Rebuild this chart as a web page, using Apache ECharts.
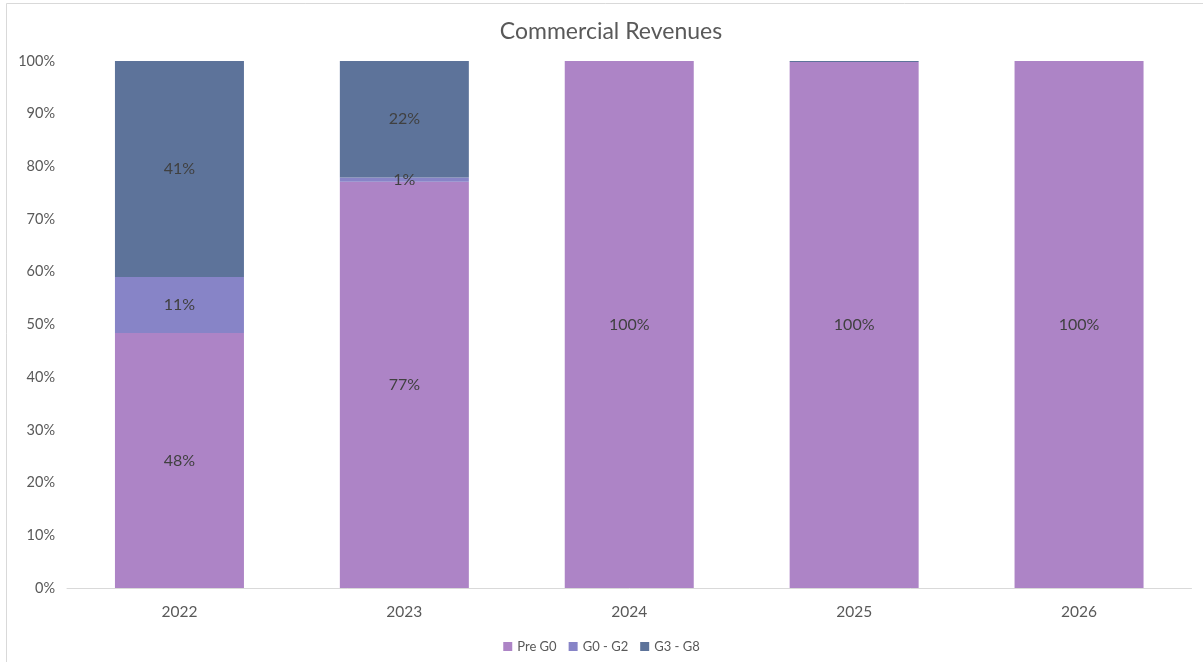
<!DOCTYPE html>
<html>
<head>
<meta charset="utf-8">
<script src="https://cdn.jsdelivr.net/npm/echarts@6/dist/echarts.min.js"></script>
<style>
  html, body { margin: 0; padding: 0; background: #ffffff; }
  #chart { width: 1203px; height: 662px; }
</style>
</head>
<body>
<div id="chart"></div>
<script>
// Share of commercial revenues by stage, per year (percent of total)
const categories = ['2022', '2023', '2024', '2025', '2026'];
const preG0 = [48.4, 77.1, 100, 99.8, 100];
const g0g2 = [10.6, 0.8, 0, 0, 0];
const g3g8 = [41.0, 22.1, 0, 0.2, 0];
const yTicks = [0, 10, 20, 30, 40, 50, 60, 70, 80, 90, 100];

const seriesNames = ['Pre G0', 'G0 - G2', 'G3 - G8'];
const seriesColors = ['#ad84c6', '#8784c7', '#5d739a'];
const seriesData = [preG0, g0g2, g3g8];

const font = 'Lato, "Open Sans", sans-serif';

const chart = echarts.init(document.getElementById('chart'), null, { renderer: 'canvas' });

const labelStyle = {
  show: true,
  position: 'inside',
  color: '#404040',
  fontSize: 16,
  fontFamily: font,
  formatter: p => (p.value >= 0.5 ? Math.round(p.value) + '%' : '')
};

chart.setOption({
  animation: false,
  backgroundColor: '#ffffff',
  title: {
    text: 'Commercial Revenues',
    left: 606,
    textAlign: 'center',
    top: 15,
    textStyle: { color: '#595959', fontSize: 23, fontWeight: 'normal', fontFamily: font }
  },
  legend: {
    data: seriesNames,
    left: 'center',
    bottom: 4,
    icon: 'rect',
    itemWidth: 9,
    itemHeight: 9,
    itemGap: 12,
    textStyle: { color: '#595959', fontSize: 13, fontFamily: font }
  },
  grid: { left: 67, right: 11.5, top: 61, bottom: 74, containLabel: false },
  xAxis: {
    type: 'category',
    data: categories,
    axisLine: { lineStyle: { color: '#d9d9d9', width: 1 } },
    axisTick: { show: false },
    axisLabel: { color: '#595959', fontSize: 15.5, fontFamily: font, margin: 16 }
  },
  yAxis: {
    type: 'value',
    min: yTicks[0],
    max: yTicks[yTicks.length - 1],
    interval: yTicks[1] - yTicks[0],
    axisLine: { show: false },
    axisTick: { show: false },
    splitLine: { show: false },
    axisLabel: { color: '#595959', fontSize: 14.5, fontFamily: font, margin: 12, formatter: '{value}%' }
  },
  graphic: [{
    type: 'rect',
    shape: { x: 6.5, y: 3.5, width: 1300, height: 1000 },
    style: { fill: 'none', stroke: '#d9d9d9', lineWidth: 1 },
    silent: true,
    z: 100
  }],
  series: seriesNames.map((name, i) => ({
    name: name,
    type: 'bar',
    stack: 'total',
    barWidth: 129,
    data: seriesData[i],
    itemStyle: { color: seriesColors[i] },
    label: labelStyle
  }))
});
</script>
</body>
</html>
